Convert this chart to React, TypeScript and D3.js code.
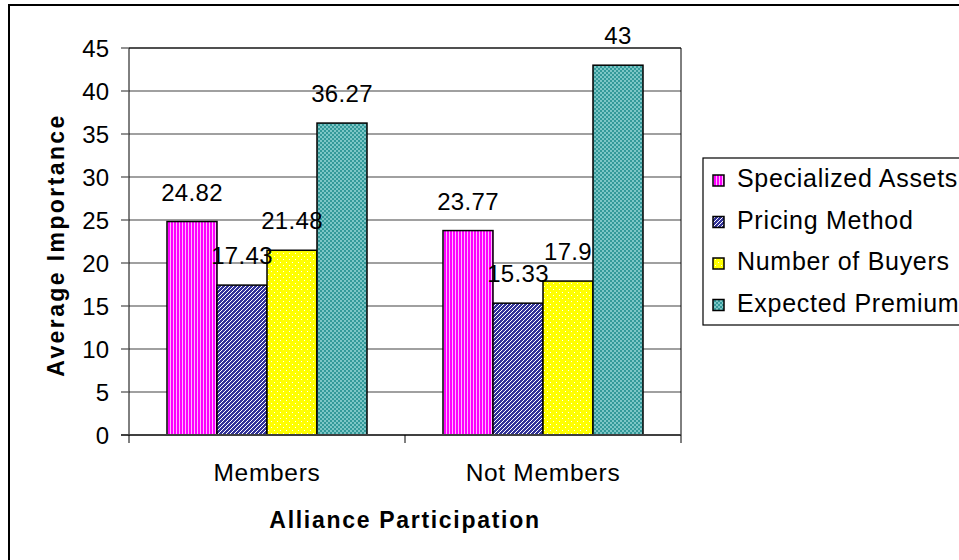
import React from "react";
import * as d3 from "d3";

const categories = ["Members", "Not Members"];
const seriesNames = ["Specialized Assets", "Pricing Method", "Number of Buyers", "Expected Premium"];
const specializedAssets = [24.82, 23.77];
const pricingMethod = [17.43, 15.33];
const numberOfBuyers = [21.48, 17.9];
const expectedPremium = [36.27, 43];
const yTicks = [0, 5, 10, 15, 20, 25, 30, 35, 40, 45];

const seriesValues = [specializedAssets, pricingMethod, numberOfBuyers, expectedPremium];
const patternIds = ["pPink", "pBlue", "pYellow", "pTeal"];

const FONT = "'Liberation Sans', Arial, sans-serif";

export default function App() {
  const W = 959, H = 560;
  const left = 129, right = 681, top = 48, bottom = 435;
  const x0 = d3.scaleBand<string>().domain(categories).range([left, right]).paddingInner(0).paddingOuter(0);
  const x1 = d3.scaleBand<string>().domain(seriesNames).range([0, x0.bandwidth()]).paddingInner(0).paddingOuter(0.76);
  const y = d3.scaleLinear().domain([0, 45]).range([bottom, top]);

  const legendX = 703, legendY = 158, legendRow = 41.5;

  return (
    <svg width={W} height={H} style={{ position: "absolute", left: 0, top: 0, background: "#fff" }} fontFamily={FONT}>
      <defs>
        <pattern id="pPink" width={3} height={3} patternUnits="userSpaceOnUse">
          <rect width={3} height={3} fill="#FF00FF" />
          <rect x={2} width={1} height={3} fill="#FFB8FF" />
        </pattern>
        <pattern id="pBlue" width={4} height={4} patternUnits="userSpaceOnUse">
          <rect width={4} height={4} fill="#333399" />
          <path d="M-1,1 L1,-1 M0,4 L4,0 M3,5 L5,3" stroke="#ffffff" strokeWidth={1} />
        </pattern>
        <pattern id="pYellow" width={6} height={6} patternUnits="userSpaceOnUse">
          <rect width={6} height={6} fill="#FFFF00" />
          <rect x={1} y={1} width={1} height={1} fill="#ffffff" />
          <rect x={4} y={4} width={1} height={1} fill="#ffffff" />
        </pattern>
        <pattern id="pTeal" width={4} height={4} patternUnits="userSpaceOnUse">
          <rect width={4} height={4} fill="#339999" />
          <rect x={0} y={0} width={2} height={2} fill="#7CC6C6" />
          <rect x={2} y={2} width={2} height={2} fill="#7CC6C6" />
        </pattern>
      </defs>

      {/* outer chart frame */}
      <rect x={9} y={5} width={1000} height={600} fill="none" stroke="#000" strokeWidth={2} />

      {/* gridlines */}
      {yTicks.filter((t) => t !== 0).map((t) => (
        <line key={"g" + t} x1={left} x2={right} y1={y(t)} y2={y(t)} stroke="#808080" strokeWidth={1.3} />
      ))}
      {/* plot border top/right */}
      <line x1={left} x2={right} y1={top} y2={top} stroke="#000" strokeWidth={1} />
      <line x1={right} x2={right} y1={top} y2={bottom} stroke="#000" strokeWidth={1} />

      {/* bars */}
      {categories.map((c, ci) =>
        seriesNames.map((s, si) => {
          const v = seriesValues[si][ci];
          const bx = (x0(c) as number) + (x1(s) as number);
          return (
            <rect key={c + s} x={bx} y={y(v)} width={x1.bandwidth()} height={y(0) - y(v)}
              fill={`url(#${patternIds[si]})`} stroke="#000" strokeWidth={1.5} />
          );
        })
      )}

      {/* data labels */}
      {categories.map((c, ci) =>
        seriesNames.map((s, si) => {
          const v = seriesValues[si][ci];
          const cx = (x0(c) as number) + (x1(s) as number) + x1.bandwidth() / 2;
          return (
            <text key={"l" + c + s} x={cx} y={y(v) - 21} textAnchor="middle" fontSize={24} letterSpacing={0.3} fill="#000">
              {String(v)}
            </text>
          );
        })
      )}

      {/* y axis */}
      <line x1={left} x2={left} y1={top} y2={bottom} stroke="#000" strokeWidth={1} />
      {yTicks.map((t) => (
        <g key={"t" + t}>
          <line x1={121} x2={left} y1={y(t)} y2={y(t)} stroke="#555" strokeWidth={1.3} />
          <text x={109} y={y(t)} dy="0.36em" textAnchor="end" fontSize={24} fill="#000">{t}</text>
        </g>
      ))}

      {/* x axis */}
      <line x1={left - 8} x2={right} y1={bottom} y2={bottom} stroke="#404040" strokeWidth={2} />
      {[left, ...categories.map((c) => (x0(c) as number) + x0.bandwidth())].map((tx, i) => (
        <line key={"xt" + i} x1={tx} x2={tx} y1={bottom} y2={bottom + 8} stroke="#000" strokeWidth={1} />
      ))}
      {categories.map((c) => (
        <text key={"c" + c} x={(x0(c) as number) + x0.bandwidth() / 2} y={481} textAnchor="middle" fontSize={24.5} letterSpacing={0.7} fill="#000">{c}</text>
      ))}

      {/* axis titles */}
      <text x={(left + right) / 2} y={528} textAnchor="middle" fontSize={23} fontWeight="bold" letterSpacing={1.7} fill="#000">
        Alliance Participation
      </text>
      <text transform={`translate(64, 245) rotate(-90)`} textAnchor="middle" fontSize={23} fontWeight="bold" letterSpacing={2.4} fill="#000">
        Average Importance
      </text>

      {/* legend */}
      <rect x={legendX} y={legendY} width={400} height={167} fill="#fff" stroke="#000" strokeWidth={1.2} />
      {seriesNames.map((s, i) => {
        const base = 187 + i * legendRow;
        return (
          <g key={"lg" + s}>
            <rect x={713} y={base - 12} width={11} height={11} fill={`url(#${patternIds[i]})`} stroke="#000" strokeWidth={1.5} />
            <text x={737} y={base} fontSize={25} letterSpacing={0.7} fill="#000">{s}</text>
          </g>
        );
      })}
    </svg>
  );
}
